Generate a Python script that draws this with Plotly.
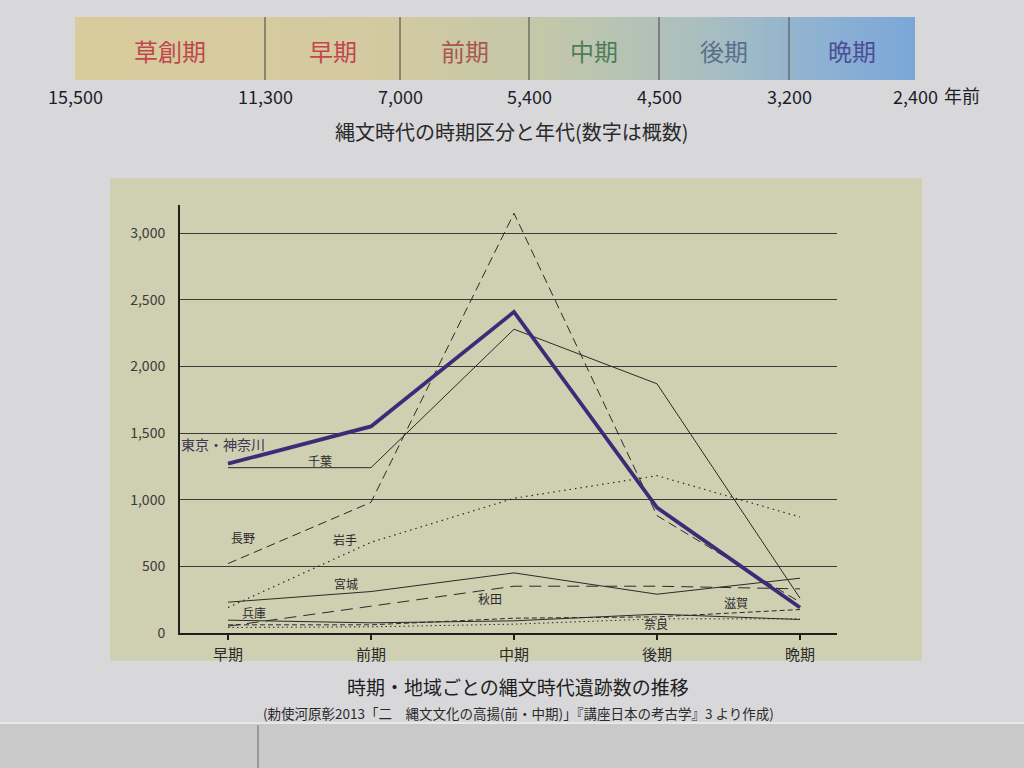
import plotly.graph_objects as go
import numpy as np

# ---------------- data ----------------
categories = ['早期', '前期', '中期', '後期', '晩期']
tokyo_kanagawa = [1270, 1550, 2410, 940, 190]
chiba = [1240, 1240, 2280, 1870, 260]
nagano = [520, 980, 3150, 880, 230]
iwate = [190, 680, 1010, 1180, 870]
miyagi = [230, 310, 450, 290, 410]
akita = [50, 200, 350, 350, 330]
hyogo = [95, 75, 90, 140, 100]
shiga = [60, 60, 110, 120, 175]
nara = [40, 45, 65, 105, 105]

y_ticks = [0, 500, 1000, 1500, 2000, 2500, 3000]

period_names = ['草創期', '早期', '前期', '中期', '後期', '晩期']
period_years = ['15,500', '11,300', '7,000', '5,400', '4,500', '3,200', '2,400']
period_label_colors = ['#c0474f', '#c0474f', '#a8574f', '#4f7d57', '#58708a', '#4c4d95']

W = 1024
H_LAYOUT = 778   # the viewer shows the figure 10px shorter than requested
H_VIEW = 768
FONT = 'Noto Sans CJK JP'


def px(x):
    return x / W


def py(y):
    return 1 - y / H_VIEW


fig = go.Figure()

# ---------------- main line chart ----------------
series = [
    ('千葉', chiba, dict(color='#2a2a2a', width=1)),
    ('長野', nagano, dict(color='#2a2a2a', width=1, dash='9px,5px')),
    ('岩手', iwate, dict(color='#2a2a2a', width=1.2, dash='1.5px,4px')),
    ('宮城', miyagi, dict(color='#2a2a2a', width=1)),
    ('秋田', akita, dict(color='#2a2a2a', width=1, dash='12px,7px')),
    ('兵庫', hyogo, dict(color='#2a2a2a', width=1)),
    ('滋賀', shiga, dict(color='#2a2a2a', width=1, dash='5px,3px')),
    ('奈良', nara, dict(color='#2a2a2a', width=1, dash='1.5px,3px')),
    ('東京・神奈川', tokyo_kanagawa, dict(color='#3a2d78', width=3.8)),
]
for name, vals, line in series:
    fig.add_trace(go.Scatter(x=categories, y=vals, mode='lines', name=name,
                             line=line, showlegend=False, xaxis='x', yaxis='y'))

# ---------------- timeline gradient bar ----------------
N = 200
gx = np.linspace(0, 1, N)
fig.add_trace(go.Heatmap(
    x=gx, y=[0], z=[gx], xaxis='x2', yaxis='y2', showscale=False,
    hoverinfo='skip',
    colorscale=[[0, '#d9cc9c'], [0.35, '#d4c9a0'], [0.55, '#c4c8a8'],
                [0.75, '#a9bec0'], [0.88, '#8fb2d2'], [1, '#7ba6d9']]))

# x pixel positions of categories: 228 .. 800 ; plot x from 180 to 837
cat_step = (800 - 228) / 4
x_lo = -(228 - 180) / cat_step
x_hi = 4 + (837 - 800) / cat_step
y_zero_px, y_top_px = 632, 205
per_px = 3000 / (632 - 233)
y_hi = (y_zero_px - y_top_px) * per_px

fig.update_layout(
    width=W, height=H_LAYOUT, autosize=False,
    margin=dict(l=0, r=0, t=0, b=0),
    paper_bgcolor='#d8d8da',
    plot_bgcolor='rgba(0,0,0,0)',
    font=dict(family=FONT, color='#2a2a2a'),
    xaxis=dict(domain=[px(180), px(837)], type='category',
               range=[x_lo, x_hi], showgrid=False, zeroline=False,
               showline=True, linecolor='#1e1e1e', linewidth=2,
               ticks='outside', ticklen=5, tickcolor='#1e1e1e', tickwidth=1.5,
               ticklabelstandoff=2,
               tickfont=dict(size=15, color='#2a2a2a', family=FONT)),
    yaxis=dict(domain=[py(y_zero_px), py(y_top_px)], range=[0, y_hi],
               tickvals=y_ticks, tickformat=',d',
               showgrid=True, gridcolor='#3a3a38', gridwidth=1.2,
               zeroline=False, showline=True, linecolor='#1e1e1e', linewidth=2,
               ticks='', ticklabelstandoff=10,
               tickfont=dict(size=14, color='#3a3a3a', family=FONT)),
    xaxis2=dict(domain=[px(75), px(915)], range=[0, 1], visible=False,
                anchor='y2', fixedrange=True),
    yaxis2=dict(domain=[py(80), py(17)], range=[-0.5, 0.5], visible=False,
                anchor='x2', fixedrange=True),
)

shapes = []
# photo background: wall strip at the bottom
shapes.append(dict(type='rect', xref='paper', yref='paper', x0=0, x1=1,
                   y0=-0.05, y1=py(722), fillcolor='#c9c9c9', line_width=0, layer='below'))
shapes.append(dict(type='line', xref='paper', yref='paper', x0=0, x1=1,
                   y0=py(722), y1=py(722), line=dict(color='#e8e8e8', width=2), layer='below'))
shapes.append(dict(type='line', xref='paper', yref='paper', x0=px(258), x1=px(258),
                   y0=-0.05, y1=py(724), line=dict(color='#9a9a9a', width=2), layer='below'))
# chart panel
shapes.append(dict(type='rect', xref='paper', yref='paper', x0=px(110), x1=px(922),
                   y0=py(660), y1=py(178), fillcolor='#cfcfb2', line_width=0, layer='below'))
# timeline boundaries
bounds = [75, 265, 400, 529, 659, 789, 915]
for b in bounds[1:-1]:
    shapes.append(dict(type='line', xref='paper', yref='paper', x0=px(b), x1=px(b),
                       y0=py(80), y1=py(17), line=dict(color='#5a5a50', width=1.2)))
fig.update_layout(shapes=shapes)


def label(x, y, text, size, color, xanchor='center'):
    return dict(xref='paper', yref='paper', x=px(x), y=py(y), text=text,
                xanchor=xanchor, yanchor='middle', showarrow=False,
                font=dict(size=size, color=color, family=FONT))


ann = []
for i, nm in enumerate(period_names):
    cx = (bounds[i] + bounds[i + 1]) / 2
    ann.append(label(cx, 50, nm, 24, period_label_colors[i]))
for i, yr in enumerate(period_years):
    ann.append(label(bounds[i], 96, yr, 18, '#1e1e2a'))
ann.append(label(942, 95, '年前', 18, '#1e1e2a', xanchor='left'))
ann.append(label(512, 131, '縄文時代の時期区分と年代(数字は概数)', 20, '#2a2a2a'))
ann.append(label(518, 686, '時期・地域ごとの縄文時代遺跡数の推移', 19, '#1e1e1e'))
ann.append(label(518, 712,
                 '(勅使河原彰2013「二　縄文文化の高揚(前・中期)」『講座日本の考古学』3 より作成)',
                 13.5, '#2a2a2a'))

# series labels (pixel placements)
labels = [('東京・神奈川', 223, 443, 14, '#3a3550'), ('千葉', 320, 460, 12, '#2a2a2a'),
          ('長野', 243, 537, 12, '#2a2a2a'), ('岩手', 345, 539, 12, '#2a2a2a'),
          ('宮城', 346, 583, 12, '#2a2a2a'), ('秋田', 490, 598, 12, '#2a2a2a'),
          ('兵庫', 254, 612, 12, '#2a2a2a'), ('滋賀', 736, 602, 12, '#2a2a2a'),
          ('奈良', 656, 623, 12, '#2a2a2a')]
for t, x, y, s, c in labels:
    ann.append(label(x, y, t, s, c))
fig.update_layout(annotations=ann)

fig.write_html('out.html',
               config={'displayModeBar': False, 'responsive': False},
               post_script="document.body.style.margin='0';document.body.style.overflow='hidden';")
